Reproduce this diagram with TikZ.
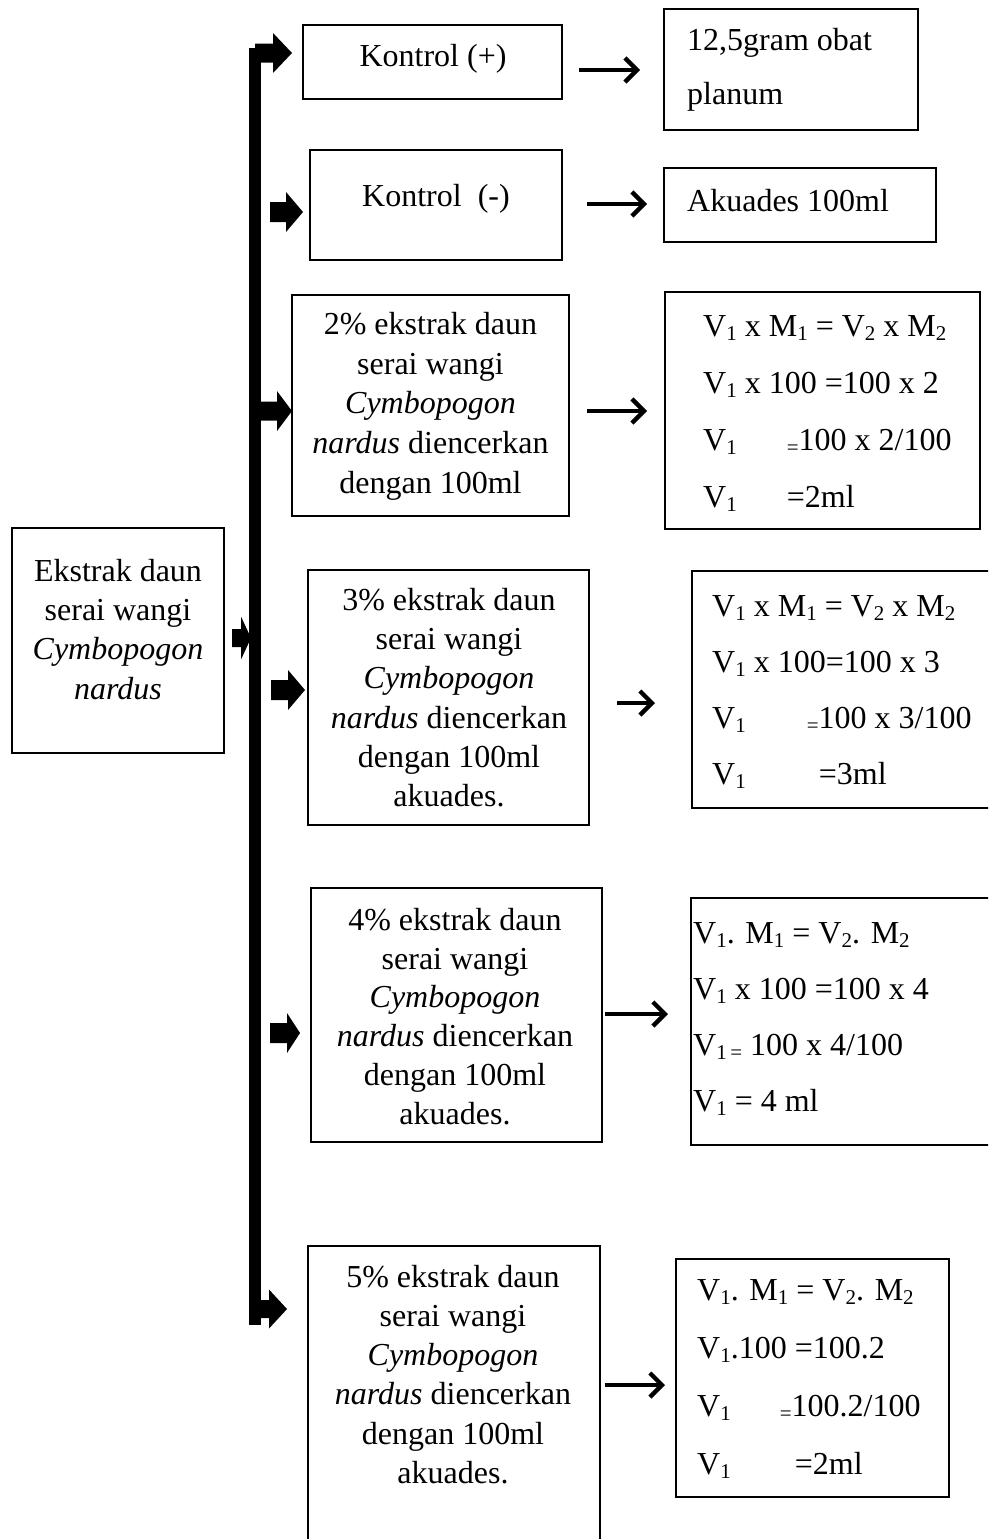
\documentclass[tikz,border=0pt]{standalone}
\usepackage{fontspec}
\setmainfont{Liberation Serif}
\usetikzlibrary{arrows.meta}
\newcommand\fl{\rule{0pt}{24pt}}
\newcommand\sbs[1]{\raisebox{-4.5pt}{\fontsize{21}{21}\selectfont #1}}
\newcommand\fatarrow[6]{\fill (#1,#3-#5) -- (#2,#3-#5) -- (#2,#3-#6) -- (#4,#3) -- (#2,#3+#6) -- (#2,#3+#5) -- (#1,#3+#5) -- cycle;}
\begin{document}
\begin{tikzpicture}[x=1pt,y=-1pt,
  box/.style={draw, line width=2.2pt, inner sep=0pt},
  txt/.style={inner sep=0pt, anchor=north, align=center, font=\fontsize{32}{39.3}\selectfont},
  frm/.style={inner sep=0pt, anchor=north west, align=left, font=\fontsize{32}{57}\selectfont},
  thinarrow/.style={line width=4.3pt, -{Straight Barb[length=12pt,width=24pt]}}]
\useasboundingbox (0,0) rectangle (988,1539);
\fill[white] (0,0) rectangle (988,1539);
\clip (0,0) rectangle (988,1539);

% boxes
\node[box, minimum width=212pt, minimum height=225pt] (ek) at (118,640.5) {};
\node[box, minimum width=259pt, minimum height=74pt] (kp) at (432.5,62) {};
\node[box, minimum width=254pt, minimum height=121pt] (kpr) at (791,69.5) {};
\node[box, minimum width=252pt, minimum height=110pt] (km) at (436,205) {};
\node[box, minimum width=272pt, minimum height=74pt] (kmr) at (800,205) {};
\node[box, minimum width=277pt, minimum height=221pt] (p2) at (430.5,405.5) {};
\node[box, minimum width=315pt, minimum height=237pt] (f2) at (822.5,410.5) {};
\node[box, minimum width=281pt, minimum height=255pt] (p3) at (448.5,697.5) {};
\node[box, minimum width=308pt, minimum height=237pt] (f3) at (846,689.5) {};
\node[box, minimum width=291pt, minimum height=254pt] (p4) at (456.5,1015) {};
\node[box, minimum width=309pt, minimum height=247pt] (f4) at (845.5,1021.5) {};
\node[box, minimum width=292pt, minimum height=304pt] (p5) at (454,1398) {};
\node[box, minimum width=273pt, minimum height=238pt] (f5) at (812.5,1378) {};

% texts
\node[txt] (ekt) at (118,557) {\fl Ekstrak daun\\serai wangi\\\textit{Cymbopogon}\\\textit{nardus}};
\node[txt] (kpt) at (433,42) {\fl Kontrol (+)};
\node[frm, font=\fontsize{32}{54}\selectfont] (kprt) at (687,26) {\fl 12,5gram obat\\planum};
\node[txt] (kmt) at (436,182) {\fl Kontrol\ \ (-)};
\node[frm] (kmrt) at (687,187) {\fl Akuades 100ml};
\node[txt, font=\fontsize{32}{39.8}\selectfont] (p2t) at (430.5,310) {\fl 2\% ekstrak daun\\serai wangi\\\textit{Cymbopogon}\\\textit{nardus} diencerkan\\dengan 100ml};
\node[txt] (p3t) at (449,586) {\fl 3\% ekstrak daun\\serai wangi\\\textit{Cymbopogon}\\\textit{nardus} diencerkan\\dengan 100ml\\akuades.};
\node[txt, font=\fontsize{32}{38.8}\selectfont] (p4t) at (455,906) {\fl 4\% ekstrak daun\\serai wangi\\\textit{Cymbopogon}\\\textit{nardus} diencerkan\\dengan 100ml\\akuades.};
\node[txt, font=\fontsize{32}{39.2}\selectfont] (p5t) at (453,1263) {\fl 5\% ekstrak daun\\serai wangi\\\textit{Cymbopogon}\\\textit{nardus} diencerkan\\dengan 100ml\\akuades.};

\node[frm] (f2t) at (703,312) {\fl V\sbs{1} x M\sbs{1} = V\sbs{2} x M\sbs{2}\\
  V\sbs{1} x 100 =100 x 2\\
  V\sbs{1}\hspace{50pt}\sbs{=}100 x 2/100\\
  V\sbs{1}\hspace{50pt}=2ml};
\node[frm, font=\fontsize{32}{56}\selectfont] (f3t) at (712,592) {\fl V\sbs{1} x M\sbs{1} = V\sbs{2} x M\sbs{2}\\
  V\sbs{1} x 100=100 x 3\\
  V\sbs{1}\hspace{61pt}\sbs{=}100 x 3/100\\
  V\sbs{1}\hspace{73pt}=3ml};
\node[frm, font=\fontsize{32}{56}\selectfont] (f4t) at (693,919) {\fl V\sbs{1}. M\sbs{1} = V\sbs{2}. M\sbs{2}\\
  V\sbs{1} x 100 =100 x 4\\
  V\sbs{1}\sbs{\,=} 100 x 4/100\\
  V\sbs{1} = 4 ml};
\node[frm, font=\fontsize{32}{58}\selectfont] (f5t) at (697,1276) {\fl V\sbs{1}. M\sbs{1} = V\sbs{2}. M\sbs{2}\\
  V\sbs{1}.100 =100.2\\
  V\sbs{1}\hspace{49pt}\sbs{=}100.2/100\\
  V\sbs{1}\hspace{64pt}=2ml};

% thin arrows
\coordinate (a1s) at (579,70); \coordinate (a1e) at (640,70);
\coordinate (a2s) at (587,204); \coordinate (a2e) at (647,204);
\coordinate (a3s) at (587,411); \coordinate (a3e) at (647,411);
\coordinate (a4s) at (617,703); \coordinate (a4e) at (655,703);
\coordinate (a5s) at (605,1014); \coordinate (a5e) at (668,1014);
\coordinate (a6s) at (605,1385); \coordinate (a6e) at (665,1385);
\draw[thinarrow] (a1s) -- (a1e);
\draw[thinarrow] (a2s) -- (a2e);
\draw[thinarrow] (a3s) -- (a3e);
\draw[thinarrow] (a4s) -- (a4e);
\draw[thinarrow] (a5s) -- (a5e);
\draw[thinarrow] (a6s) -- (a6e);

% thick bar and block arrows
\fill (249,48) rectangle (261,1325);
\fatarrow{255}{273}{53}{292}{9.5}{20}
\fatarrow{255}{269}{1309}{287}{9}{19.5}
\fatarrow{270}{286}{212}{303}{10}{20}
\fatarrow{258}{277}{411}{292}{9.5}{20}
\fatarrow{232}{241}{638}{251}{9}{21.5}
\fatarrow{271}{288}{690}{305}{10}{20}
\fatarrow{270}{287}{1033}{300}{10}{20}
\end{tikzpicture}
\end{document}
